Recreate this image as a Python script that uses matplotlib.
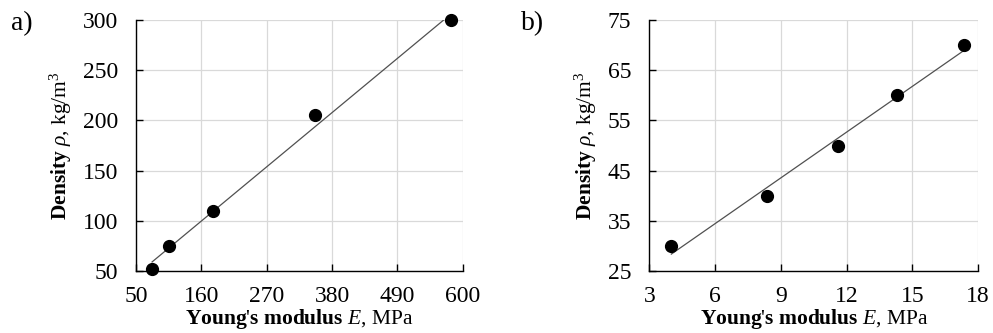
import numpy as np
import matplotlib.pyplot as plt

plt.rcParams['font.family'] = 'Liberation Serif'
plt.rcParams['mathtext.fontset'] = 'custom'
plt.rcParams['mathtext.rm'] = 'Liberation Serif'
plt.rcParams['mathtext.it'] = 'Liberation Serif:italic'
plt.rcParams['mathtext.bf'] = 'Liberation Serif:bold'

# panel a data
E_a = [77, 106, 180, 351, 581]
rho_a = [52, 75, 110, 205, 300]
xticks_a = [50, 160, 270, 380, 490, 600]
yticks_a = [50, 100, 150, 200, 250, 300]

# panel b data
E_b = [4.0, 8.35, 11.6, 14.3, 17.35]
rho_b = [30, 40, 50, 60, 70]
xticks_b = [3, 6, 9, 12, 15, 18]
yticks_b = [25, 35, 45, 55, 65, 75]

xlabel = r"$\mathbf{Young\text{'}s\ modulus}\ \mathit{E}{,}\ \mathrm{MPa}$"
ylabel = r"$\mathbf{Density}\ \mathit{\rho}{,}\ \mathrm{kg/m^3}$"

fig = plt.figure(figsize=(9.93, 3.33), dpi=100)
ax1 = fig.add_axes([0.137, 0.186, 0.329, 0.754])
ax2 = fig.add_axes([0.654, 0.186, 0.331, 0.754])


def draw(ax, x, y, xt, yt):
    # linear trend line through the points
    k, b = np.polyfit(x, y, 1)
    xs = np.array([min(x), max(x)])
    ax.plot(xs, k * xs + b, color='#505050', lw=0.9, zorder=3)
    ax.plot(x, y, 'o', color='black', ms=8.5, clip_on=False, zorder=4)
    ax.set_xlim(xt[0], xt[-1])
    ax.set_ylim(yt[0], yt[-1])
    ax.set_xticks(xt)
    ax.set_yticks(yt)
    ax.grid(True, color='#d9d9d9', lw=0.9)
    ax.set_axisbelow(True)
    for s in ['top', 'right']:
        ax.spines[s].set_visible(False)
    for s in ['left', 'bottom']:
        ax.spines[s].set_color('black')
        ax.spines[s].set_linewidth(1.0)
    ax.tick_params(direction='in', length=5, width=1, labelsize=17)
    ax.tick_params(axis='x', pad=11)
    ax.tick_params(axis='y', pad=13)
    ax.set_xlabel(xlabel, fontsize=15.5, labelpad=0)
    ax.set_ylabel(ylabel, fontsize=15.5, labelpad=6)


draw(ax1, E_a, rho_a, xticks_a, yticks_a)
draw(ax2, E_b, rho_b, xticks_b, yticks_b)

fig.text(0.011, 0.928, 'a)', fontsize=20, va='center')
fig.text(0.525, 0.928, 'b)', fontsize=20, va='center')

fig.savefig('out.png', dpi=100)
